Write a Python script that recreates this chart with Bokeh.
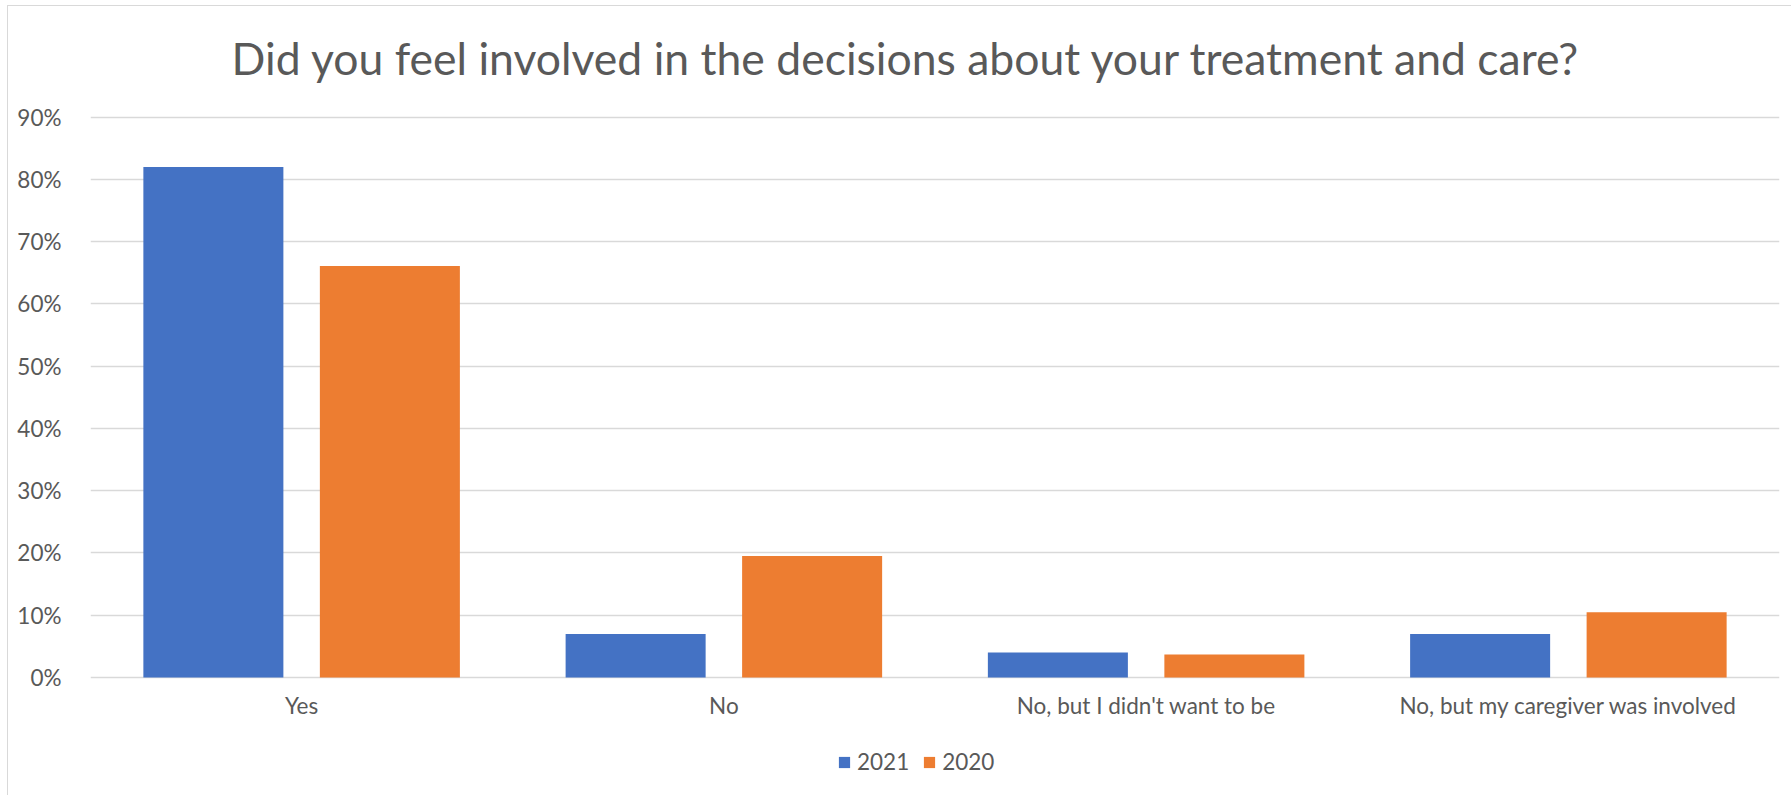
from bokeh.plotting import figure
from bokeh.models import (ColumnDataSource, FactorRange, Range1d, FixedTicker,
                          NumeralTickFormatter, Legend, LegendItem, Label)
from bokeh.transform import dodge
from bokeh.embed import file_html
from bokeh.resources import INLINE

# ---- data ----
categories = ["Yes", "No", "No, but I didn't want to be", "No, but my caregiver was involved"]
series_names = ["2021", "2020"]
values_2021 = [0.82, 0.07, 0.04, 0.07]
values_2020 = [0.661, 0.195, 0.037, 0.105]
y_ticks = [0.0, 0.1, 0.2, 0.3, 0.4, 0.5, 0.6, 0.7, 0.8, 0.9]
title_text = "Did you feel involved in the decisions about your treatment and care?"

BLUE = "#4472C4"
ORANGE = "#ED7D31"
TEXT = "#595959"
GRID = "#D9D9D9"
FONT = "Lato"

# layout (pixels): canvas is 1783 x 789; plot band for 0..90% spans canvas y 110.7 .. 671
CANVAS_H = 789
Y0_PX, Y90_PX = 671.0, 110.7
px_per_unit = (Y0_PX - Y90_PX) / 0.9
y_top = 0.9 + Y90_PX / px_per_unit
y_bottom = -(CANVAS_H - Y0_PX) / px_per_unit

source = ColumnDataSource(data=dict(cat=categories, y2021=values_2021, y2020=values_2020))

p = figure(
    x_range=FactorRange(*categories),
    y_range=Range1d(y_bottom, y_top),
    frame_width=1689, frame_height=CANVAS_H,
    min_border_left=82, min_border_right=12, min_border_top=0, min_border_bottom=0,
    output_backend="svg", toolbar_location=None,
    background_fill_color="white", border_fill_color="white",
)
p.margin = (5, 0, 0, 7)
p.styles = {"border-left": "1px solid #D9D9D9", "border-top": "1px solid #D9D9D9"}
p.outline_line_color = None

bar_w = 0.3316
off = 0.209
r1 = p.vbar(x=dodge("cat", -off, range=p.x_range), top="y2021", width=bar_w, source=source,
            fill_color=BLUE, line_color=None)
r2 = p.vbar(x=dodge("cat", off, range=p.x_range), top="y2020", width=bar_w, source=source,
            fill_color=ORANGE, line_color=None)

# title (inside the tall frame, above the 90% line)
title = Label(x=816, y=CANVAS_H - 51, x_units="screen", y_units="screen", text=title_text,
              text_align="center", text_baseline="middle",
              text_font=FONT, text_font_size="44.5px", text_color=TEXT)
p.add_layout(title)

# axes
p.xaxis.fixed_location = 0
p.xaxis.axis_line_color = None
p.xaxis.major_tick_line_color = None
p.xaxis.minor_tick_line_color = None
p.xaxis.major_label_text_font = FONT
p.xaxis.major_label_text_font_size = "22.5px"
p.xaxis.major_label_text_color = TEXT
p.xaxis.major_label_standoff = 8

p.yaxis.axis_line_color = None
p.yaxis.major_tick_line_color = None
p.yaxis.minor_tick_line_color = None
p.yaxis.ticker = FixedTicker(ticks=y_ticks)
p.yaxis.formatter = NumeralTickFormatter(format="0%")
p.yaxis.major_label_text_font = FONT
p.yaxis.major_label_text_font_size = "22.5px"
p.yaxis.major_label_text_color = TEXT
p.yaxis.major_label_standoff = 23

p.xgrid.grid_line_color = None
p.ygrid.grid_line_color = GRID
p.ygrid.grid_line_width = 1.5
p.ygrid.ticker = FixedTicker(ticks=y_ticks)

legend = Legend(items=[LegendItem(label=series_names[0], renderers=[r1]),
                       LegendItem(label=series_names[1], renderers=[r2])],
                location=(747, 20), orientation="horizontal",
                glyph_width=14, glyph_height=14, label_standoff=6, spacing=13,
                padding=0, margin=0, border_line_color=None, background_fill_alpha=0,
                label_text_font=FONT, label_text_font_size="22.5px", label_text_color=TEXT)
p.add_layout(legend, "center")

open("out.html", "w").write(file_html(p, INLINE))
